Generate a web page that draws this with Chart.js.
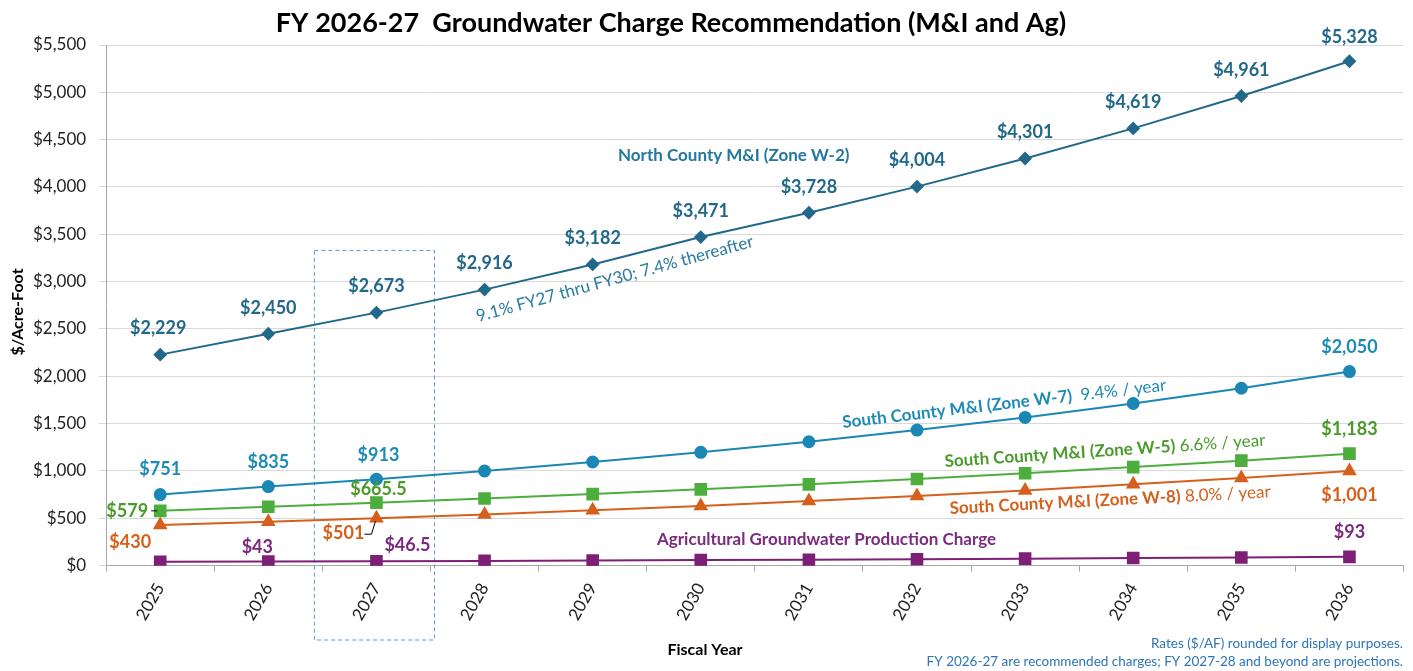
<!DOCTYPE html>
<html>
<head>
<meta charset="utf-8">
<title>FY 2026-27 Groundwater Charge Recommendation</title>
<script src="https://cdn.jsdelivr.net/npm/chart.js@4"></script>
<style>
  body { margin: 0; background: #fff; }
  #contenedor { width: 1413px; height: 671px; }
</style>
</head>
<body>
<div id="contenedor"><canvas id="grafico"></canvas></div>
<script>
// Datos
const anios = ['2025', '2026', '2027', '2028', '2029', '2030', '2031', '2032', '2033', '2034', '2035', '2036'];
const northW2 = [2229, 2450, 2673, 2916, 3182, 3471, 3728, 4004, 4301, 4619, 4961, 5328];
const southW7 = [751, 835, 913, 1000, 1095, 1197, 1309, 1432, 1566, 1713, 1874, 2050];
const southW5 = [579, 622, 665.5, 709, 756, 806, 859, 916, 976, 1041, 1109, 1183];
const southW8 = [430, 464, 501, 541, 584, 631, 682, 736, 795, 859, 927, 1001];
const agCharge = [40, 43, 46.5, 50, 54, 59, 63, 68, 74, 80, 86, 93];
const yMax = 5500;
const yPaso = 500;

const fuente = 'Lato, "Open Sans", sans-serif';

// Etiquetas de valor: índice del punto -> desplazamiento [dx, dy] en px
const etiquetasValor = [
  { color: '#22688A', puntos: { 0: [-2, -26], 1: [0, -26], 2: [0, -26], 3: [0, -26], 4: [0, -26], 5: [0, -26], 6: [0, -26], 7: [0, -26], 8: [0, -26], 9: [0, -26], 10: [0, -26], 11: [0, -24] } },
  { color: '#1E8BB6', puntos: { 0: [0, -25], 1: [0, -24], 2: [2, -24], 11: [0, -24] } },
  { color: '#4A9A2C', puntos: { 0: [-33, 0], 2: [2, -13], 11: [0, -24] } },
  { color: '#D5601C', puntos: { 0: [-30, 17], 2: [-33, 15], 11: [0, 24] } },
  { color: '#7B2A7E', puntos: { 1: [-11, -14], 2: [31, -16], 11: [0, -25] } }
];

function formatoDolar(v) {
  return '$' + v.toLocaleString('en-US');
}

// Nombres de series escritos sobre las líneas
const nombresSeries = [
  { x: 618, y: 161, ang: 0, color: '#2478A0', negrita: 'North County M&I (Zone W-2)', normal: '' },
  { x: 478, y: 322, ang: -15.3, color: '#2A7BA3', negrita: '', normal: '9.1% FY27 thru FY30; 7.4% thereafter' },
  { x: 843, y: 428, ang: -6.6, color: '#1E8BB6', negrita: 'South County M&I (Zone W-7)', normal: '  9.4% / year' },
  { x: 945, y: 467, ang: -3.8, color: '#4A9A2C', negrita: 'South County M&I (Zone W-5)', normal: ' 6.6% / year' },
  { x: 950, y: 514, ang: -3.0, color: '#D5601C', negrita: 'South County M&I (Zone W-8)', normal: ' 8.0% / year' },
  { x: 657, y: 545, ang: 0, color: '#7B2A7E', negrita: 'Agricultural Groundwater Production Charge', normal: '' }
];

const pluginAnotaciones = {
  id: 'anotaciones',
  beforeDatasetsDraw(chart) {
    const ctx = chart.ctx;
    const x = chart.scales.x;
    const y = chart.scales.y;
    // Recuadro punteado alrededor de 2027
    const ancho = x.getPixelForValue(1) - x.getPixelForValue(0);
    const cx = x.getPixelForValue(2);
    ctx.save();
    ctx.strokeStyle = '#5B9BD5';
    ctx.lineWidth = 1;
    ctx.setLineDash([4, 3]);
    const top = y.getPixelForValue(3330);
    ctx.strokeRect(cx - ancho / 2 - 8, top, ancho + 12, 640 - top);
    ctx.restore();
  },
  afterDatasetsDraw(chart) {
    const ctx = chart.ctx;
    ctx.save();

    // Valores
    ctx.font = 'bold 18px ' + fuente;
    ctx.textAlign = 'center';
    ctx.textBaseline = 'middle';
    etiquetasValor.forEach((et, i) => {
      const meta = chart.getDatasetMeta(i);
      const valores = chart.data.datasets[i].data;
      Object.keys(et.puntos).forEach(k => {
        const p = meta.data[k];
        const [dx, dy] = et.puntos[k];
        ctx.fillStyle = et.color;
        ctx.fillText(formatoDolar(valores[k]), p.x + dx, p.y + dy);
      });
    });

    // Líneas guía ($579 y $501)
    ctx.strokeStyle = '#000';
    ctx.lineWidth = 1;
    const p579 = chart.getDatasetMeta(2).data[0];
    ctx.beginPath();
    ctx.moveTo(p579.x - 9, p579.y);
    ctx.lineTo(p579.x - 3, p579.y);
    ctx.stroke();
    const p501 = chart.getDatasetMeta(3).data[2];
    ctx.beginPath();
    ctx.moveTo(p501.x - 12, p501.y + 16);
    ctx.lineTo(p501.x - 5, p501.y + 16);
    ctx.lineTo(p501.x - 1, p501.y + 3);
    ctx.stroke();

    // Nombres de series
    ctx.textAlign = 'left';
    ctx.textBaseline = 'alphabetic';
    nombresSeries.forEach(n => {
      ctx.save();
      ctx.translate(n.x, n.y);
      ctx.rotate(n.ang * Math.PI / 180);
      ctx.fillStyle = n.color;
      ctx.font = 'bold 17px ' + fuente;
      ctx.fillText(n.negrita, 0, 0);
      const w = ctx.measureText(n.negrita).width;
      ctx.font = '17px ' + fuente;
      ctx.fillText(n.normal, w, 0);
      ctx.restore();
    });

    // Título
    ctx.fillStyle = '#000';
    ctx.textAlign = 'center';
    ctx.font = 'bold 27px ' + fuente;
    ctx.fillText('FY 2026-27  Groundwater Charge Recommendation (M&I and Ag)', 671, 32);

    // Títulos de ejes
    ctx.font = 'bold 16px ' + fuente;
    ctx.textBaseline = 'middle';
    ctx.fillText('Fiscal Year', 705, 650);
    ctx.save();
    ctx.translate(18, 312);
    ctx.rotate(-Math.PI / 2);
    ctx.fillText('$/Acre-Foot', 0, 0);
    ctx.restore();

    // Notas al pie
    ctx.textAlign = 'right';
    ctx.textBaseline = 'alphabetic';
    ctx.fillStyle = '#2E75B6';
    ctx.font = '13.5px ' + fuente;
    ctx.fillText('Rates ($/AF) rounded for display purposes.', 1403, 648);
    ctx.fillText('FY 2026-27 are recommended charges; FY 2027-28 and beyond are projections.', 1403, 666);
    ctx.restore();
  }
};

function serie(nombre, datos, color, estilo, radio) {
  return {
    label: nombre,
    data: datos,
    borderColor: color,
    backgroundColor: color,
    borderWidth: 2,
    pointStyle: estilo,
    pointRadius: radio,
    pointHoverRadius: radio,
    tension: 0
  };
}

const ctx = document.getElementById('grafico').getContext('2d');
new Chart(ctx, {
  type: 'line',
  data: {
    labels: anios,
    datasets: [
      serie('North County M&I (Zone W-2)', northW2, '#22688A', 'rectRot', 5.5),
      serie('South County M&I (Zone W-7)', southW7, '#1A87B5', 'circle', 5.5),
      serie('South County M&I (Zone W-5)', southW5, '#4DAE3D', 'rect', 7.5),
      serie('South County M&I (Zone W-8)', southW8, '#D65F1E', 'triangle', 6.5),
      serie('Agricultural Groundwater Production Charge', agCharge, '#7E1F76', 'rect', 7.5)
    ]
  },
  options: {
    responsive: true,
    maintainAspectRatio: false,
    animation: false,
    layout: { padding: { top: 45, right: 8, bottom: 39, left: 20 } },
    plugins: {
      legend: { display: false },
      tooltip: { enabled: false }
    },
    scales: {
      x: {
        offset: true,
        grid: { display: true, drawOnChartArea: false, drawTicks: true, tickLength: 6, color: '#A6A6A6', offset: true },
        border: { display: true, color: '#A6A6A6' },
        ticks: { minRotation: 60, maxRotation: 60, color: '#222', font: { family: fuente, size: 17 }, padding: 8 }
      },
      y: {
        min: 0,
        max: yMax,
        grid: { color: '#D9D9D9', drawTicks: true, tickLength: 7 },
        border: { display: true, color: '#A6A6A6' },
        ticks: { stepSize: yPaso, color: '#222', padding: 13, font: { family: fuente, size: 17 }, callback: v => formatoDolar(v) }
      }
    }
  },
  plugins: [pluginAnotaciones]
});
</script>
</body>
</html>
